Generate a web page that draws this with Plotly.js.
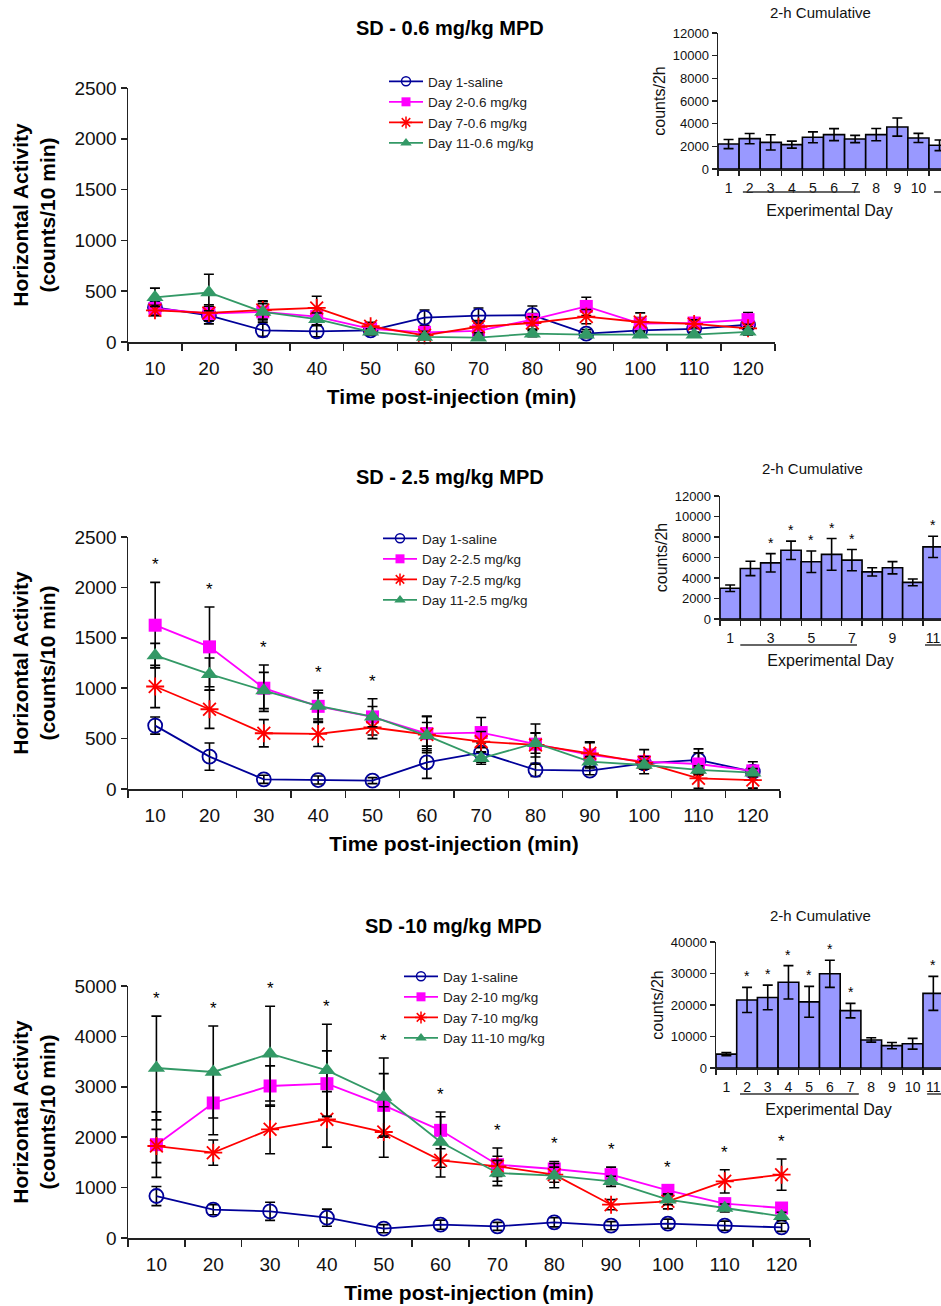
<!DOCTYPE html>
<html>
<head>
<meta charset="utf-8">
<script src="https://cdn.plot.ly/plotly-3.0.1.min.js"></script>
<style>html,body{margin:0;padding:0;background:#fff}#chart{width:941px;height:1306px}</style>
</head>
<body>
<div id="chart"></div>
<script>
// ---------- DATA ----------
const times = [10, 20, 30, 40, 50, 60, 70, 80, 90, 100, 110, 120];
const timeLabels = ["10","20","30","40","50","60","70","80","90","100","110","120"];
const days = [1, 2, 3, 4, 5, 6, 7, 8, 9, 10, 11];

const seriesNamesA = ["Day 1-saline", "Day 2-0.6 mg/kg", "Day 7-0.6 mg/kg", "Day 11-0.6 mg/kg"];
const seriesNamesB = ["Day 1-saline", "Day 2-2.5 mg/kg", "Day 7-2.5 mg/kg", "Day 11-2.5 mg/kg"];
const seriesNamesC = ["Day 1-saline", "Day 2-10 mg/kg", "Day 7-10 mg/kg", "Day 11-10 mg/kg"];

// Panel A: 0.6 mg/kg
const A_day1 = [340, 263, 115, 105, 115, 240, 260, 265, 82, 115, 130, 170];
const A_day1_err = [80, 85, 60, 55, 40, 75, 75, 90, 40, 50, 50, 50];
const A_day2 = [330, 280, 296, 250, 130, 95, 110, 220, 350, 180, 187, 220];
const A_day2_err = [60, 70, 100, 80, 40, 40, 50, 60, 90, 60, 40, 70];
const A_day7 = [312, 286, 315, 335, 155, 66, 150, 187, 250, 197, 178, 135];
const A_day7_err = [50, 80, 90, 115, 40, 40, 60, 60, 70, 90, 40, 40];
const A_day11 = [440, 487, 296, 225, 100, 50, 43, 82, 72, 72, 72, 100];
const A_day11_err = [90, 180, 80, 60, 30, 25, 25, 30, 25, 25, 25, 30];

// Panel B: 2.5 mg/kg
const B_day1 = [629, 321, 96, 89, 83, 265, 361, 189, 182, 255, 288, 172];
const B_day1_err = [85, 135, 40, 40, 30, 160, 95, 65, 40, 50, 110, 40];
const B_day2 = [1625, 1410, 1000, 820, 715, 550, 560, 445, 338, 271, 248, 180];
const B_day2_err = [425, 395, 230, 160, 180, 170, 150, 200, 130, 120, 110, 90];
const B_day7 = [1017, 791, 553, 546, 610, 540, 470, 437, 354, 262, 106, 89];
const B_day7_err = [210, 190, 135, 125, 110, 180, 100, 120, 106, 60, 100, 80];
const B_day11 = [1325, 1139, 977, 824, 718, 530, 305, 454, 271, 238, 189, 162];
const B_day11_err = [120, 160, 180, 130, 100, 130, 60, 100, 50, 40, 40, 40];
const B_sigTimes = [10, 20, 30, 40, 50];

// Panel C: 10 mg/kg
const C_day1 = [833, 562, 529, 403, 185, 265, 231, 311, 245, 284, 245, 212];
const C_day1_err = [190, 100, 180, 170, 80, 90, 80, 90, 80, 90, 90, 80];
const C_day2 = [1852, 2679, 3016, 3062, 2632, 2136, 1455, 1369, 1257, 946, 681, 595];
const C_day2_err = [650, 630, 400, 650, 630, 364, 330, 150, 150, 100, 100, 80];
const C_day7 = [1825, 1693, 2156, 2354, 2103, 1541, 1422, 1257, 661, 728, 1124, 1257];
const C_day7_err = [330, 250, 483, 550, 500, 330, 200, 150, 100, 150, 230, 310];
const C_day11 = [3373, 3294, 3657, 3327, 2798, 1905, 1290, 1237, 1124, 760, 595, 430];
const C_day11_err = [1030, 912, 940, 913, 773, 500, 250, 240, 100, 100, 80, 80];
const C_sigTimes = [10, 20, 30, 40, 50, 60, 70, 80, 90, 100, 110, 120];

// 2-h cumulative insets
const A_cum = [2200, 2680, 2350, 2150, 2800, 3030, 2650, 3030, 3700, 2740, 2090];
const A_cum_err = [400, 450, 670, 310, 480, 530, 320, 540, 800, 400, 470];
const B_cum = [3000, 4930, 5480, 6700, 5580, 6300, 5740, 4600, 5000, 3570, 7040];
const B_cum_err = [320, 700, 900, 900, 1050, 1550, 1040, 400, 600, 330, 1040];
const B_cumSig = [3, 4, 5, 6, 7, 11];
const C_cum = [4400, 21600, 22400, 27200, 21000, 29900, 18200, 8900, 7100, 7700, 23700];
const C_cum_err = [500, 4000, 3900, 5300, 4900, 4300, 2300, 700, 1000, 1700, 5400];
const C_cumSig = [2, 3, 4, 5, 6, 7, 11];

const titleA = "SD - 0.6 mg/kg MPD", titleB = "SD - 2.5 mg/kg MPD", titleC = "SD -10 mg/kg MPD";

// ---------- STYLE ----------
const FONT = "Liberation Sans, Arial, Helvetica, sans-serif";
const W = 941, H = 1306;
const px = v => v / W;
const py = v => 1 - v / H;
const styles = [
  {color: "#000099", symbol: "circle-open", size: 14, lsize: 9, mlw: 1.8},
  {color: "#ff00ff", symbol: "square", size: 13, lsize: 9, mlw: 0},
  {color: "#ff0000", symbol: "asterisk-open", size: 15, lsize: 10, mlw: 1.8},
  {color: "#339966", symbol: "triangle-up", size: 15, lsize: 10, mlw: 0}
];

const traces = [];
const annotations = [];
const shapes = [];

function addPanel(series, errs, names, xa, ya, legendId) {
  series.forEach((ys, k) => {
    const s = styles[k];
    traces.push({
      type: "scatter", mode: "lines+markers", x: times, y: ys, name: names[k], showlegend: false,
      xaxis: xa, yaxis: ya, cliponaxis: false,
      line: {color: s.color, width: 1.8},
      marker: {symbol: s.symbol, size: s.size, color: s.color, line: {color: s.color, width: s.mlw}},
      error_y: {type: "data", array: errs[k], visible: true, color: "#000", thickness: 1.6, width: 5}
    });
  });
  // legend-only entries with smaller symbols (no data)
  series.forEach((ys, k) => {
    const s = styles[k];
    traces.push({
      type: "scatter", mode: "lines+markers", x: [null], y: [null], name: names[k],
      xaxis: xa, yaxis: ya, legend: legendId, legendgroup: legendId + "g" + k, hoverinfo: "skip",
      line: {color: s.color, width: 1.8},
      marker: {symbol: s.symbol, size: s.lsize, color: s.color, line: {color: s.color, width: s.mlw ? 1.5 : 0}}
    });
  });
}
function addStars(series, errs, sig, xa, ya) {
  sig.forEach(t => {
    const i = times.indexOf(t);
    let top = -Infinity;
    series.forEach((ys, k) => { top = Math.max(top, ys[i] + errs[k][i]); });
    annotations.push({x: t, y: top, xref: xa, yref: ya, text: "*", showarrow: false,
      yanchor: "bottom", yshift: 6, font: {family: FONT, size: 17, color: "#000"}});
  });
}
function addBars(vals, err, xa, ya) {
  traces.push({
    type: "bar", x: days, y: vals, xaxis: xa, yaxis: ya, showlegend: false, width: 1,
    marker: {color: "#9999ff", line: {color: "#000", width: 1.6}},
    error_y: {type: "data", array: err, visible: true, color: "#000", thickness: 1.6, width: 5}
  });
}
function addBarStars(vals, err, sig, xa, ya) {
  sig.forEach(d => {
    const i = days.indexOf(d);
    annotations.push({x: d, y: vals[i] + err[i], xref: xa, yref: ya, text: "*", showarrow: false,
      yanchor: "bottom", yshift: 1, font: {family: FONT, size: 14, color: "#000"}});
  });
}

addPanel([A_day1, A_day2, A_day7, A_day11], [A_day1_err, A_day2_err, A_day7_err, A_day11_err], seriesNamesA, "x", "y", "legend");
addPanel([B_day1, B_day2, B_day7, B_day11], [B_day1_err, B_day2_err, B_day7_err, B_day11_err], seriesNamesB, "x3", "y3", "legend2");
addPanel([C_day1, C_day2, C_day7, C_day11], [C_day1_err, C_day2_err, C_day7_err, C_day11_err], seriesNamesC, "x5", "y5", "legend3");
addStars([B_day1, B_day2, B_day7, B_day11], [B_day1_err, B_day2_err, B_day7_err, B_day11_err], B_sigTimes, "x3", "y3");
addStars([C_day1, C_day2, C_day7, C_day11], [C_day1_err, C_day2_err, C_day7_err, C_day11_err], C_sigTimes, "x5", "y5");
addBars(A_cum, A_cum_err, "x2", "y2");
addBars(B_cum, B_cum_err, "x4", "y4");
addBars(C_cum, C_cum_err, "x6", "y6");
addBarStars(B_cum, B_cum_err, B_cumSig, "x4", "y4");
addBarStars(C_cum, C_cum_err, C_cumSig, "x6", "y6");

const AX = "#222";
function mainX(d0, d1, anchor) {
  return {domain: [px(d0), px(d1)], anchor: anchor, range: [5, 125], showgrid: false, zeroline: false,
    tickmode: "array", tickvals: times, ticktext: timeLabels, ticks: "outside", ticklen: 9, tickcolor: "rgba(0,0,0,0)",
    minor: {tick0: 5, dtick: 10, ticks: "outside", ticklen: 7, tickwidth: 1.5, tickcolor: AX},
    showline: true, linecolor: AX, linewidth: 1.5, tickfont: {family: FONT, size: 19, color: "#111"},
    title: {text: "Time post-injection (min)", standoff: 11, font: {family: FONT, size: 21, color: "#000", weight: "bold"}}};
}
function mainY(y0, y1, anchor, max, step) {
  return {domain: [py(y0), py(y1)], anchor: anchor, range: [0, max], dtick: step, showgrid: false, zeroline: false,
    ticks: "outside", ticklen: 6, tickwidth: 1.5, tickcolor: AX, showline: true, linecolor: AX, linewidth: 1.5,
    tickfont: {family: FONT, size: 19, color: "#111"},
    title: {text: "Horizontal Activity<br>(counts/10 min)", standoff: 13, font: {family: FONT, size: 21, color: "#000", weight: "bold"}}};
}
function insetX(d0, rmax, anchor, tv) {
  return {domain: [px(d0), 1], anchor: anchor, range: [0.5, rmax], showgrid: false, zeroline: false,
    tickmode: "array", tickvals: tv, ticks: "outside", ticklen: 6, tickcolor: "rgba(0,0,0,0)",
    minor: {tick0: 0.5, dtick: 1, ticks: "outside", ticklen: 5, tickwidth: 1.2, tickcolor: AX},
    showline: true, linecolor: AX, linewidth: 1.5, tickfont: {family: FONT, size: 14, color: "#111"},
    title: {text: "Experimental Day", standoff: 9, font: {family: FONT, size: 16, color: "#111"}}};
}
function insetY(y0, y1, anchor, max, step) {
  return {domain: [py(y0), py(y1)], anchor: anchor, range: [0, max], dtick: step, showgrid: false, zeroline: false,
    exponentformat: "none", separatethousands: false, tickformat: "d",
    ticks: "outside", ticklen: 5, tickwidth: 1.2, tickcolor: AX, showline: true, linecolor: AX, linewidth: 1.5,
    tickfont: {family: FONT, size: 13, color: "#111"},
    title: {text: "counts/2h", standoff: 3, font: {family: FONT, size: 16, color: "#111"}}};
}

const mainTitleFont = {family: FONT, size: 20, color: "#000", weight: "bold"};
const insetTitleFont = {family: FONT, size: 15, color: "#111"};
function label(x, y, text, font) {
  return {xref: "paper", yref: "paper", x: px(x), y: py(y), xanchor: "center", yanchor: "middle", text: text, showarrow: false, font: font};
}
annotations.push(
  label(450, 28, titleA, mainTitleFont),
  label(450, 477, titleB, mainTitleFont),
  label(453, 926, titleC, mainTitleFont),
  label(820, 13, "2-h Cumulative", insetTitleFont),
  label(812, 469, "2-h Cumulative", insetTitleFont),
  label(820, 915, "2-h Cumulative", insetTitleFont)
);

function underline(xa, x0, x1, yPix) {
  shapes.push({type: "line", xref: xa, yref: "paper", x0: x0, x1: x1, y0: py(yPix), y1: py(yPix), line: {color: "#333", width: 1.5}});
}
underline("x2", 1.68, 7.23, 192); underline("x2", 10.74, 11.6, 192);
underline("x4", 1.5, 7.25, 645); underline("x4", 10.6, 11.6, 645);
underline("x6", 1.66, 7.4, 1094); underline("x6", 10.7, 11.6, 1094);

const legFont = {family: FONT, size: 13.5, color: "#222"};
function leg(x, y) {
  return {x: px(x), y: py(y), xanchor: "left", yanchor: "top", bgcolor: "rgba(0,0,0,0)", font: legFont,
    tracegroupgap: 0, traceorder: "normal", itemwidth: 34};
}

const layout = {
  width: W, height: H, margin: {l: 0, r: 0, t: 0, b: 0}, paper_bgcolor: "#fff", plot_bgcolor: "rgba(0,0,0,0)",
  showlegend: true, bargap: 0,
  font: {family: FONT, color: "#111"},
  xaxis: mainX(128, 775, "y"), yaxis: mainY(342, 88, "x", 2500, 500),
  xaxis3: mainX(128, 780, "y3"), yaxis3: mainY(789, 537, "x3", 2500, 500),
  xaxis5: mainX(128, 810, "y5"), yaxis5: mainY(1238, 986, "x5", 5000, 1000),
  xaxis2: insetX(718, 11.07, "y2", days), yaxis2: insetY(169, 33, "x2", 12000, 2000),
  xaxis4: insetX(720, 11.39, "y4", [1, 3, 5, 7, 9, 11]), yaxis4: insetY(619, 496, "x4", 12000, 2000),
  xaxis6: insetX(716, 11.37, "y6", days), yaxis6: insetY(1068, 942, "x6", 40000, 10000),
  legend: leg(384, 66), legend2: leg(378, 523), legend3: leg(399, 961),
  annotations: annotations, shapes: shapes
};

Plotly.newPlot("chart", traces, layout, {displayModeBar: false, staticPlot: true});
</script>
</body>
</html>
